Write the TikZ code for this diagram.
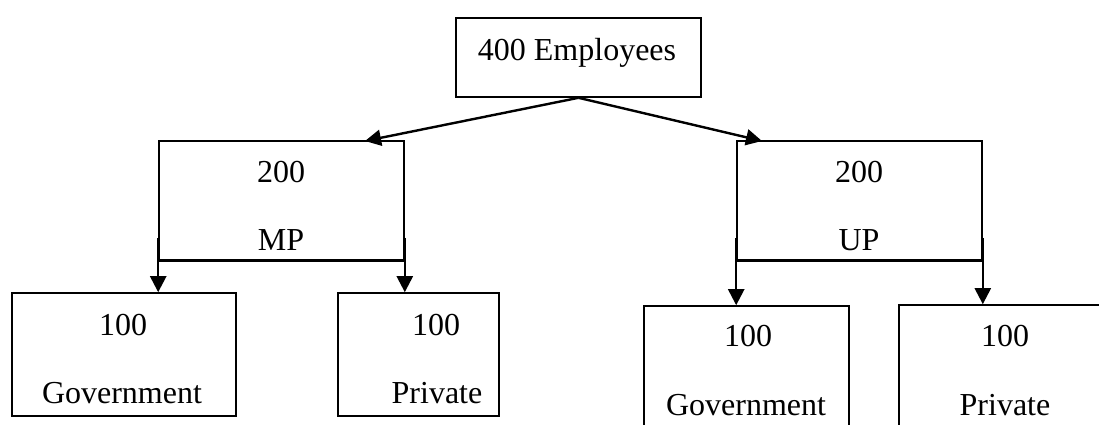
\documentclass[tikz,border=0pt]{standalone}
\usepackage{fontspec}
\setmainfont{Liberation Serif}
\usetikzlibrary{arrows.meta}
\tikzset{
  boxnode/.style={draw=black, line width=1.6pt, inner sep=0pt, fill=none},
  txt/.style={anchor=base, inner sep=0pt, font=\fontsize{32}{38}\selectfont},
  conn/.style={draw=black, line width=2.4pt},
  arr/.style={conn, -{Triangle[length=16pt,width=16pt]}}
}
\begin{document}
\begin{tikzpicture}[x=1pt,y=-1pt]
\useasboundingbox (0,0) rectangle (1099,424);
\clip (0,0) rectangle (1099,424);
% boxes
\node[boxnode, minimum width=245pt, minimum height=79pt] (top) at (578.5,57.5) {};
\node[boxnode, minimum width=245pt, minimum height=119pt] (mp) at (281.5,200.5) {};
\node[boxnode, minimum width=245pt, minimum height=119pt] (up) at (859.5,200.5) {};
\node[boxnode, minimum width=224pt, minimum height=123pt] (gmp) at (124,354.5) {};
\node[boxnode, minimum width=161pt, minimum height=123pt] (pmp) at (418.5,354.5) {};
\node[boxnode, minimum width=205pt, minimum height=124pt] (gup) at (746.5,368) {};
\node[boxnode, minimum width=213pt, minimum height=124pt] (pup) at (1005.5,367) {};
% texts
\node[txt] (topT) at (577,60) {400 Employees};
\node[txt] (mpA) at (281,182) {200};
\node[txt] (mpB) at (281,250) {MP};
\node[txt] (upA) at (859,182) {200};
\node[txt] (upB) at (859,250) {UP};
\node[txt] (gmpA) at (123,335) {100};
\node[txt] (gmpB) at (122,403) {Government};
\node[txt] (pmpA) at (436,335) {100};
\node[txt] (pmpB) at (437,403) {Private};
\node[txt] (gupA) at (748,346) {100};
\node[txt] (gupB) at (746,415) {Government};
\node[txt] (pupA) at (1005,346) {100};
\node[txt] (pupB) at (1005,415) {Private};
% connectors
\coordinate (mpIn) at (365,141);
\coordinate (upIn) at (762,141);
\draw[arr] (top.south) -- (mpIn);
\draw[arr] (top.south) -- (upIn);
\draw[conn] (mp.south west) -- (mp.south east);
\draw[conn] (up.south west) -- (up.south east);
\draw[arr] ([yshift=23pt]mp.south west) -- (mp.south west |- gmp.north);
\draw[arr] ([yshift=23pt]mp.south east) -- (mp.south east |- pmp.north);
\draw[arr] ([yshift=23pt]up.south west) -- (up.south west |- gup.north);
\draw[arr] ([yshift=23pt]up.south east) -- (up.south east |- pup.north);
\end{tikzpicture}
\end{document}
